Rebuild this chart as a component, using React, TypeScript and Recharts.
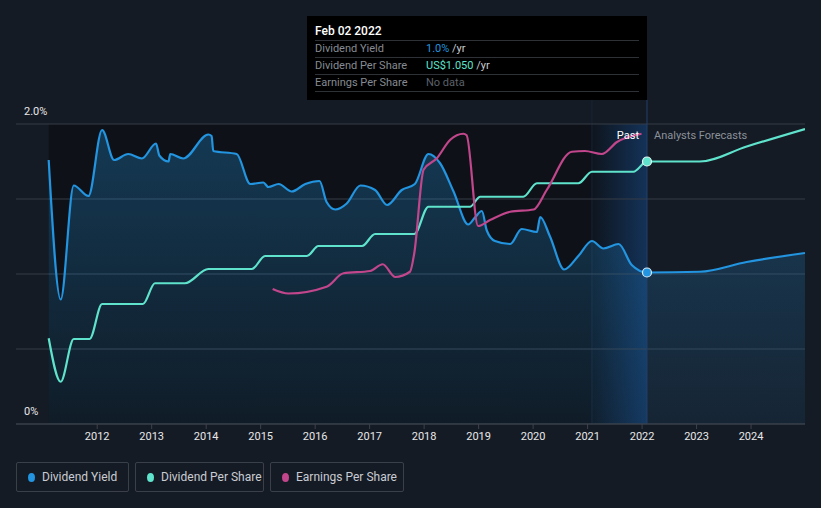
import React from "react";
import {
  ComposedChart,
  Area,
  Line,
  XAxis,
  YAxis,
  CartesianGrid,
  ReferenceArea,
  ReferenceLine,
  ReferenceDot,
} from "recharts";

// Dividend yield (%)
const yieldYears = [
  2011.11, 2011.33, 2011.57, 2011.84, 2012.09, 2012.31, 2012.57, 2012.82, 2013.08, 2013.14,
  2013.31, 2013.34, 2013.58, 2014.04, 2014.1, 2014.13, 2014.56, 2014.81, 2015.05, 2015.14,
  2015.33, 2015.57, 2015.82, 2016.08, 2016.21, 2016.37, 2016.58, 2016.83, 2017.1, 2017.32,
  2017.59, 2017.83, 2018.08, 2018.29, 2018.54, 2018.81, 2018.94, 2019.06, 2019.15, 2019.3,
  2019.58, 2019.79, 2020.07, 2020.13, 2020.31, 2020.57, 2020.83, 2021.08, 2021.29, 2021.57,
  2021.81, 2022.09, 2023.06, 2023.92, 2024.99,
];
const yieldValues = [
  1.76, 0.83, 1.59, 1.52, 1.96, 1.76, 1.8, 1.77, 1.87, 1.79,
  1.75, 1.8, 1.77, 1.93, 1.92, 1.82, 1.8, 1.6, 1.61, 1.58,
  1.6, 1.55, 1.6, 1.62, 1.48, 1.43, 1.47, 1.59, 1.56, 1.46,
  1.56, 1.6, 1.8, 1.74, 1.55, 1.33, 1.38, 1.42, 1.29, 1.22,
  1.2, 1.3, 1.28, 1.38, 1.25, 1.03, 1.12, 1.22, 1.17, 1.2,
  1.06, 1.01, 1.015, 1.08, 1.14,
];

// Dividend per share (US$)
const dpsYears = [
  2011.11, 2011.33, 2011.57, 2011.86, 2012.09, 2012.84, 2013.06, 2013.61, 2014.04, 2014.84,
  2015.08, 2015.85, 2016.06, 2016.86, 2017.1, 2017.82, 2018.08, 2018.84, 2019.03, 2019.82,
  2020.07, 2020.83, 2021.08, 2021.84, 2022.09, 2023.06, 2023.92, 2024.99,
];
const dpsValues = [
  0.343, 0.169, 0.34, 0.34, 0.48, 0.48, 0.563, 0.563, 0.62, 0.62,
  0.672, 0.672, 0.712, 0.712, 0.76, 0.76, 0.869, 0.869, 0.909, 0.909,
  0.963, 0.963, 1.009, 1.009, 1.05, 1.05, 1.11, 1.18,
];

// Earnings per share (US$)
const epsYears = [
  2015.22, 2015.51, 2016.21, 2016.52, 2017.01, 2017.24, 2017.47, 2017.74, 2017.82, 2017.99,
  2018.23, 2018.48, 2018.72, 2018.78, 2018.99, 2019.21, 2019.58, 2020.01, 2020.25, 2020.71,
  2020.95, 2021.26, 2021.54, 2021.99,
];
const epsValues = [
  1.8, 1.74, 1.83, 2.01, 2.04, 2.13, 1.96, 2.03, 2.28, 3.39,
  3.54, 3.79, 3.87, 3.85, 2.64, 2.72, 2.83, 2.86, 3.12, 3.63,
  3.64, 3.6, 3.76, 3.87,
];

const yearTicks = [2012, 2013, 2014, 2015, 2016, 2017, 2018, 2019, 2020, 2021, 2022, 2023, 2024];
const yieldTicks = [0, 0.5, 1, 1.5, 2];
const YIELD_MAX = 2.16;

const TODAY = 2022.09;
const PAST_START = 2011.11;
const LAST_YEAR = 2021.08;

const BLUE = "#2394df";
const TEAL = "#5fe3cc";
const PINK = "#c2468c";
const BG = "#151b25";

// merge the three series on one numeric x axis
const allYears = Array.from(new Set([...yieldYears, ...dpsYears, ...epsYears])).sort((a, b) => a - b);
const chartData = allYears.map((x) => {
  const yi = yieldYears.indexOf(x);
  const di = dpsYears.indexOf(x);
  const ei = epsYears.indexOf(x);
  return {
    x,
    dy: yi >= 0 ? yieldValues[yi] : null,
    dps: di >= 0 ? dpsValues[di] : null,
    eps: ei >= 0 ? epsValues[ei] : null,
  };
});

const font = "Roboto, 'Noto Sans', sans-serif";

// grid only at the yield ticks, taken from the plot offset and the yield domain
const gridRows = ({ offset }: any) =>
  yieldTicks.map((t) => offset.top + offset.height * (1 - t / YIELD_MAX));

const legendItems = [
  { label: "Dividend Yield", color: BLUE, width: 113 },
  { label: "Dividend Per Share", color: TEAL, width: 129 },
  { label: "Earnings Per Share", color: PINK, width: 134 },
];

const tipRows = [
  { label: "Dividend Yield", value: "1.0%", color: BLUE, unit: " /yr" },
  { label: "Dividend Per Share", value: "US$1.050", color: TEAL, unit: " /yr" },
  { label: "Earnings Per Share", value: "No data", color: "#5c6169", unit: "" },
];

export default function App() {
  return (
    <div
      style={{
        position: "absolute",
        left: 0,
        top: 0,
        width: 821,
        height: 508,
        background: BG,
        fontFamily: font,
        overflow: "hidden",
      }}
    >
      <ComposedChart
        width={821}
        height={460}
        data={chartData}
        margin={{ top: 100, right: 16, left: 16, bottom: 6 }}
      >
        <defs>
          <linearGradient id="yieldFill" x1="0" y1="0" x2="0" y2="1">
            <stop offset="0%" stopColor={BLUE} stopOpacity={0.3} />
            <stop offset="100%" stopColor={BLUE} stopOpacity={0.08} />
          </linearGradient>
          <linearGradient id="bandFill" x1="0" y1="0" x2="1" y2="0">
            <stop offset="0%" stopColor="#1a5aa8" stopOpacity={0.04} />
            <stop offset="100%" stopColor="#1a5aa8" stopOpacity={0.45} />
          </linearGradient>
        </defs>
        <ReferenceArea
          x1={PAST_START}
          x2={TODAY}
          y1={0}
          y2={2}
          fill="#0e1218"
          fillOpacity={1}
          stroke="none"
          zIndex={-300}
        />
        <ReferenceArea
          x1={LAST_YEAR}
          x2={TODAY}
          y1={0}
          y2={2}
          fill="url(#bandFill)"
          fillOpacity={1}
          stroke="none"
          zIndex={-250}
        />
        <ReferenceLine x={LAST_YEAR} stroke="#172538" strokeWidth={1} zIndex={-240} />
        <CartesianGrid vertical={false} stroke="#363c47" horizontalCoordinatesGenerator={gridRows} />
        <XAxis
          dataKey="x"
          type="number"
          domain={[2010.51, 2024.99]}
          ticks={yearTicks}
          allowDataOverflow
          height={30}
          tickSize={5}
          tickMargin={3}
          stroke="#3d424b"
          tick={{ fill: "#e8e8e8", fontSize: 11, fontFamily: font }}
        />
        <YAxis domain={[0, YIELD_MAX]} ticks={yieldTicks} hide allowDataOverflow />
        <YAxis yAxisId="dps" hide domain={[0, 1.296]} allowDataOverflow />
        <YAxis yAxisId="eps" hide domain={[0, 4.32]} allowDataOverflow />
        <ReferenceLine x={TODAY} stroke="#22406a" strokeWidth={1} />
        <Area
          type="monotone"
          dataKey="dy"
          stroke={BLUE}
          strokeWidth={2.2}
          fill="url(#yieldFill)"
          fillOpacity={1}
          connectNulls
          dot={false}
          activeDot={false}
          isAnimationActive={false}
        />
        <Line
          type="monotone"
          dataKey="dps"
          yAxisId="dps"
          stroke={TEAL}
          strokeWidth={2.2}
          connectNulls
          dot={false}
          activeDot={false}
          isAnimationActive={false}
        />
        <Line
          type="monotone"
          dataKey="eps"
          yAxisId="eps"
          stroke={PINK}
          strokeWidth={2.2}
          connectNulls
          dot={false}
          activeDot={false}
          isAnimationActive={false}
        />
        <ReferenceDot x={TODAY} y={1.01} r={4.5} fill={BLUE} stroke="#d6ecfa" strokeWidth={1.2} />
        <ReferenceDot x={TODAY} y={1.05} yAxisId="dps" r={4.5} fill={TEAL} stroke="#e4faf6" strokeWidth={1.2} />
      </ComposedChart>

      <div style={{ position: "absolute", left: 24, top: 105, color: "#e8e8e8", fontSize: 11 }}>2.0%</div>
      <div style={{ position: "absolute", left: 24, top: 405, color: "#e8e8e8", fontSize: 11 }}>0%</div>

      <div style={{ position: "absolute", right: 821 - 639, top: 129, color: "#ffffff", fontSize: 11 }}>Past</div>
      <div style={{ position: "absolute", left: 654, top: 129, color: "#8b9199", fontSize: 11 }}>Analysts Forecasts</div>

      <div
        style={{
          position: "absolute",
          left: 307,
          top: 16,
          width: 340,
          height: 84,
          background: "#000000",
          boxSizing: "border-box",
          padding: "7px 8px 0 8px",
        }}
      >
        <div style={{ color: "#ffffff", fontSize: 12, fontWeight: 500, height: 17, lineHeight: "16px" }}>Feb 02 2022</div>
        {tipRows.map((r) => (
          <div
            key={r.label}
            style={{
              borderTop: "1px solid #2e3136",
              height: 16,
              lineHeight: "16px",
              fontSize: 11,
              display: "flex",
              borderBottom: r.label === "Earnings Per Share" ? "1px solid #2e3136" : undefined,
            }}
          >
            <span style={{ color: "#868b92", width: 111 }}>{r.label}</span>
            <span style={{ color: r.color }}>{r.value}</span>
            <span style={{ color: "#c9ccd0", whiteSpace: "pre" }}>{r.unit}</span>
          </div>
        ))}
      </div>

      <div style={{ position: "absolute", left: 16, top: 462, display: "flex", gap: 6 }}>
        {legendItems.map((l) => (
          <div
            key={l.label}
            style={{
              width: l.width,
              height: 30,
              boxSizing: "border-box",
              border: "1px solid #3a3f48",
              borderRadius: 2,
              display: "flex",
              alignItems: "center",
              paddingLeft: 11,
              color: "#c9ccd2",
              fontSize: 12,
            }}
          >
            <span
              style={{
                width: 7,
                height: 9,
                borderRadius: "50%",
                background: l.color,
                marginRight: 7,
                display: "inline-block",
              }}
            />
            {l.label}
          </div>
        ))}
      </div>
    </div>
  );
}
